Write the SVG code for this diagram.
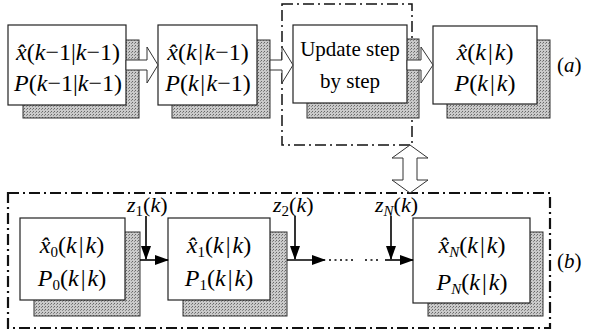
<svg xmlns="http://www.w3.org/2000/svg" width="597" height="336" viewBox="0 0 597 336">
<defs>
<pattern id="dots" width="3" height="3" patternUnits="userSpaceOnUse">
<rect width="3" height="3" fill="#cacaca"/>
<rect width="1" height="1" fill="#666"/>
<rect x="2" y="1" width="1" height="1" fill="#888"/>
</pattern>
<marker id="ah" markerWidth="14" markerHeight="10" refX="13" refY="5" orient="auto" markerUnits="userSpaceOnUse">
<path d="M0,0 L14,5 L0,10 Z" fill="#000"/>
</marker>
</defs>
<style>
.box{fill:#fff;stroke:#222;stroke-width:1.2}
.sh{fill:url(#dots);stroke:#333;stroke-width:1}
.t{font-family:"Liberation Serif","Times New Roman",serif;font-size:24px;fill:#000;text-anchor:middle}
.i{font-style:italic}
.sub{font-size:15px}
.hol{fill:#fff;stroke:#333;stroke-width:1}
.dd{fill:none;stroke:#111;stroke-dasharray:11 4 2 4}
.ln{stroke:#000;stroke-width:1.6;fill:none}
.lab{font-family:"Liberation Serif","Times New Roman",serif;font-size:22px;fill:#000}
</style>

<g id="region-a">
<rect class="dd" x="282" y="4" width="130" height="141" stroke-width="1.5"/>
</g>
<g id="region-b">
<rect class="dd" x="8" y="193" width="542" height="135" stroke-width="2.2"/>
</g>

<g id="node-a1">
<rect class="sh" x="23" y="40" width="116" height="78"/>
<rect class="box" x="8" y="25" width="118" height="80"/>
<text class="t" x="68" y="60"><tspan class="i">x̂</tspan>(<tspan class="i">k</tspan>−1|<tspan class="i">k</tspan>−1)</text>
<text class="t" x="68" y="91"><tspan class="i">P</tspan>(<tspan class="i">k</tspan>−1|<tspan class="i">k</tspan>−1)</text>
</g>
<g id="node-a2">
<rect class="sh" x="172" y="40" width="98" height="78"/>
<rect class="box" x="158" y="25" width="99" height="80"/>
<text class="t" x="208" y="60"><tspan class="i">x̂</tspan>(<tspan class="i">k</tspan><tspan dx="1.5">|</tspan><tspan class="i" dx="1.5">k</tspan>−1)</text>
<text class="t" x="208" y="91"><tspan class="i">P</tspan>(<tspan class="i">k</tspan><tspan dx="1.5">|</tspan><tspan class="i" dx="1.5">k</tspan>−1)</text>
</g>
<g id="node-a3">
<rect class="sh" x="307" y="39" width="112" height="79"/>
<rect class="box" x="293" y="25" width="114" height="78"/>
<text class="t" x="350" y="56" style="font-size:21px">Update step</text>
<text class="t" x="350" y="88" style="font-size:21px">by step</text>
</g>
<g id="node-a4">
<rect class="sh" x="447" y="40" width="103" height="78"/>
<rect class="box" x="433" y="26" width="104" height="78"/>
<text class="t" x="485" y="60"><tspan class="i">x̂</tspan>(<tspan class="i">k</tspan><tspan dx="2">|</tspan><tspan class="i" dx="2">k</tspan>)</text>
<text class="t" x="485" y="91"><tspan class="i">P</tspan>(<tspan class="i">k</tspan><tspan dx="2">|</tspan><tspan class="i" dx="2">k</tspan>)</text>
</g>

<g id="node-b0">
<rect class="sh" x="34" y="232" width="106" height="84"/>
<rect class="box" x="20" y="218" width="105" height="82"/>
<text class="t" x="72" y="253"><tspan class="i">x̂</tspan><tspan class="sub" dy="4">0</tspan><tspan dy="-4">(</tspan><tspan class="i">k</tspan><tspan dx="2">|</tspan><tspan class="i" dx="2">k</tspan>)</text>
<text class="t" x="72" y="286"><tspan class="i">P</tspan><tspan class="sub" dy="4">0</tspan><tspan dy="-4">(</tspan><tspan class="i">k</tspan><tspan dx="2">|</tspan><tspan class="i" dx="2">k</tspan>)</text>
</g>
<g id="node-b1">
<rect class="sh" x="183" y="232" width="104" height="84"/>
<rect class="box" x="168" y="218" width="102" height="82"/>
<text class="t" x="219" y="253"><tspan class="i">x̂</tspan><tspan class="sub" dy="4">1</tspan><tspan dy="-4">(</tspan><tspan class="i">k</tspan><tspan dx="2">|</tspan><tspan class="i" dx="2">k</tspan>)</text>
<text class="t" x="219" y="286"><tspan class="i">P</tspan><tspan class="sub" dy="4">1</tspan><tspan dy="-4">(</tspan><tspan class="i">k</tspan><tspan dx="2">|</tspan><tspan class="i" dx="2">k</tspan>)</text>
</g>
<g id="node-bN">
<rect class="sh" x="428" y="232" width="115" height="84"/>
<rect class="box" x="413" y="218" width="117" height="85"/>
<text class="t" x="472" y="253"><tspan class="i">x̂</tspan><tspan class="sub i" dy="4">N</tspan><tspan dy="-4">(</tspan><tspan class="i">k</tspan><tspan dx="2">|</tspan><tspan class="i" dx="2">k</tspan>)</text>
<text class="t" x="472" y="290"><tspan class="i">P</tspan><tspan class="sub i" dy="4">N</tspan><tspan dy="-4">(</tspan><tspan class="i">k</tspan><tspan dx="2">|</tspan><tspan class="i" dx="2">k</tspan>)</text>
</g>

<g id="connectors">
<polygon class="hol" points="126,60 147,60 147,47 158,65 147,83 147,70 126,70"/>
<polygon class="hol" points="270,60 282,60 282,47 293,65 282,83 282,70 270,70"/>
<polygon class="hol" points="407,60 421,60 421,47 433,65 421,83 421,70 407,70"/>
<polygon class="hol" points="410,145 428,158 417,158 417,180 428,180 410,193 392,180 403,180 403,158 392,158"/>
<line class="ln" x1="146" y1="216" x2="146" y2="259" marker-end="url(#ah)"/>
<line class="ln" x1="140" y1="260" x2="168" y2="260" marker-end="url(#ah)"/>
<line class="ln" x1="295" y1="216" x2="295" y2="259" marker-end="url(#ah)"/>
<line class="ln" x1="287" y1="260" x2="325" y2="260" marker-end="url(#ah)"/>
<line class="ln" x1="329" y1="260" x2="356" y2="260" stroke-dasharray="2 3.5" stroke-width="1.8"/>
<line class="ln" x1="365" y1="260" x2="380" y2="260" stroke-dasharray="2 3.5" stroke-width="1.8"/>
<line class="ln" x1="391" y1="216" x2="391" y2="259" marker-end="url(#ah)"/>
<line class="ln" x1="385" y1="260" x2="413" y2="260" marker-end="url(#ah)"/>
</g>

<g id="labels">
<text class="lab" x="127" y="212"><tspan class="i">z</tspan><tspan class="sub" dy="4">1</tspan><tspan dy="-4">(</tspan><tspan class="i">k</tspan>)</text>
<text class="lab" x="273" y="212"><tspan class="i">z</tspan><tspan class="sub" dy="4">2</tspan><tspan dy="-4">(</tspan><tspan class="i">k</tspan>)</text>
<text class="lab" x="375" y="212"><tspan class="i">z</tspan><tspan class="sub i" dy="4">N</tspan><tspan dy="-4">(</tspan><tspan class="i">k</tspan>)</text>
<text class="lab" x="557" y="72" style="font-size:21px">(<tspan class="i">a</tspan>)</text>
<text class="lab" x="557" y="268" style="font-size:21px">(<tspan class="i">b</tspan>)</text>
</g>
</svg>
